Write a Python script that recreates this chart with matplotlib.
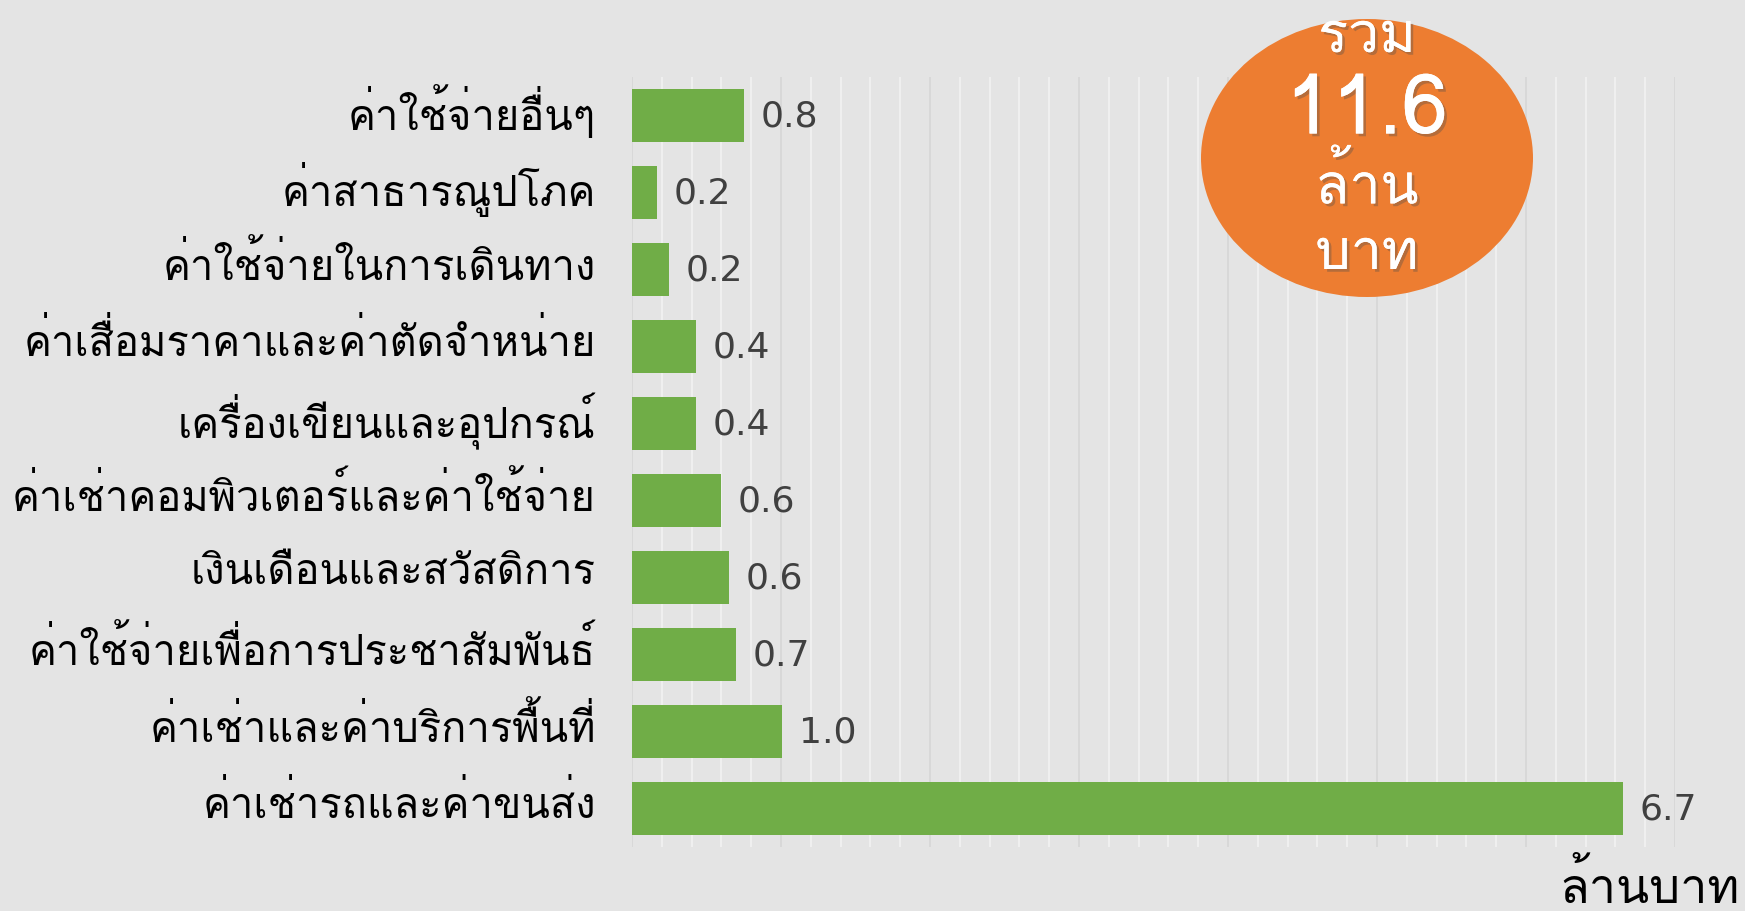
import matplotlib
matplotlib.use("Agg")
import matplotlib.pyplot as plt
import matplotlib.patheffects as pe
import matplotlib.transforms as mtransforms
from matplotlib import font_manager
from matplotlib.ft2font import FT2Font
from matplotlib.patches import Ellipse

# หมวดค่าใช้จ่าย (บนลงล่าง)
categories = [
    "ค่าใช้จ่ายอื่นๆ",
    "ค่าสาธารณูปโภค",
    "ค่าใช้จ่ายในการเดินทาง",
    "ค่าเสื่อมราคาและค่าตัดจำหน่าย",
    "เครื่องเขียนและอุปกรณ์",
    "ค่าเช่าคอมพิวเตอร์และค่าใช้จ่าย",
    "เงินเดือนและสวัสดิการ",
    "ค่าใช้จ่ายเพื่อการประชาสัมพันธ์",
    "ค่าเช่าและค่าบริการพื้นที่",
    "ค่าเช่ารถและค่าขนส่ง",
]
values = [0.75, 0.17, 0.25, 0.43, 0.43, 0.6, 0.65, 0.7, 1.01, 6.65]
value_labels = ["0.8", "0.2", "0.2", "0.4", "0.4", "0.6", "0.6", "0.7", "1.0", "6.7"]
total_lines = ["รวม", "11.6", "ล้าน", "บาท"]
unit_label = "ล้านบาท"

# หาฟอนต์ที่มีอักษรไทย
thai_fams = []
for f in font_manager.fontManager.ttflist:
    try:
        if 0x0E01 in FT2Font(f.fname).get_charmap() and f.name not in thai_fams:
            thai_fams.append(f.name)
    except Exception:
        pass
plt.rcParams['font.family'] = thai_fams[:1] + ['DejaVu Sans']

bg = '#e4e4e4'
fig = plt.figure(figsize=(17.45, 9.12), dpi=100, facecolor=bg)
ax = fig.add_axes([632 / 1745, 1 - 848 / 912, (1675 - 632) / 1745, (848 - 78) / 912])
ax.set_facecolor(bg)

y = list(range(len(categories)))
ax.barh(y, values, height=0.7, color='#70ad47', zorder=3)
for yi, v, lab in zip(y, values, value_labels):
    ax.text(v + 0.11, yi, lab, va='center', ha='left', fontsize=26, color='#404040',
            family=['DejaVu Sans'])

ax.set_xlim(0, 7)
ax.set_ylim(9.5, -0.5)
ax.set_yticks(y)
ax.set_yticklabels(categories, fontsize=30, color='black')
ax.tick_params(axis='y', length=0, pad=26)
# ยกป้ายหมวดขึ้นเล็กน้อยให้ตรงกับแท่ง
shift = mtransforms.ScaledTranslation(0, 9 / 100, fig.dpi_scale_trans)
for lbl in ax.get_yticklabels():
    lbl.set_transform(lbl.get_transform() + shift)
ax.set_xticks(range(8))
ax.set_xticks([i * 0.2 for i in range(36)], minor=True)
ax.tick_params(axis='x', which='both', length=0, labelbottom=False)
ax.grid(axis='x', which='minor', color='#f2f2f2', lw=1.2, zorder=0)
ax.grid(axis='x', which='major', color='#d6d6d6', lw=1.2, zorder=1)
for s in ax.spines.values():
    s.set_visible(False)

# วงรียอดรวม
ell = Ellipse((1367 / 1745, 1 - 159 / 912), 332 / 1745, 278 / 912,
              transform=fig.transFigure, facecolor='#ed7d31', edgecolor='none', zorder=5)
fig.patches.append(ell)
shadow = [pe.withSimplePatchShadow(offset=(2, -2), alpha=0.35), pe.Normal()]
line_y = [39, 113, 186, 256]
line_size = [40, 60, 40, 40]
for txt, yy, sz in zip(total_lines, line_y, line_size):
    fig.text(1367 / 1745, 1 - yy / 912, txt, ha='center', va='center', fontsize=sz,
             color='white', path_effects=shadow, zorder=6)

fig.text(1740 / 1745, 1 - 888 / 912, unit_label, ha='right', va='center', fontsize=35,
         color='black')

fig.savefig("out.png", dpi=100, facecolor=bg)
